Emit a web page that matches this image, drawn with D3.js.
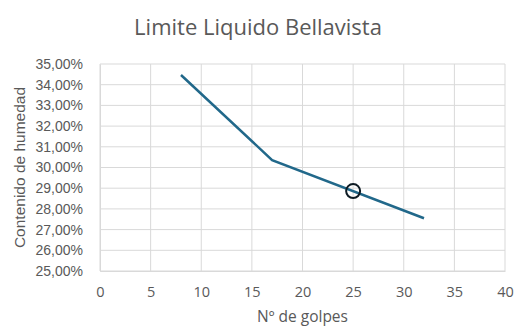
<!DOCTYPE html>
<html>
<head>
<meta charset="utf-8">
<script src="https://cdn.jsdelivr.net/npm/d3@7"></script>
<style>
  html, body { margin: 0; padding: 0; background: #fff; }
  svg { display: block; }
</style>
</head>
<body>
<svg id="chart" width="516" height="327"></svg>
<script>
// Blow count vs. moisture content (liquid limit test)
const golpes = [8, 17, 32];
const humedad = [0.3447, 0.3036, 0.2755];
// Liquid limit read at 25 blows
const limiteGolpes = [25];
const limiteHumedad = [0.2886];
const xTicks = [0, 5, 10, 15, 20, 25, 30, 35, 40];
const yTicks = [0.25, 0.26, 0.27, 0.28, 0.29, 0.30, 0.31, 0.32, 0.33, 0.34, 0.35];

const svg = d3.select("#chart");
const m = { left: 100, right: 11, top: 64, bottom: 56 };
const W = 516, H = 327;

const x = d3.scaleLinear().domain([0, 40]).range([m.left, W - m.right]);
const y = d3.scaleLinear().domain([0.25, 0.35]).range([H - m.bottom, m.top]);

const fmt = v => (v * 100).toFixed(2).replace(".", ",") + "%";

// gridlines
svg.append("g").selectAll("line.v").data(xTicks).join("line")
  .attr("x1", d => x(d)).attr("x2", d => x(d))
  .attr("y1", y(0.25)).attr("y2", y(0.35))
  .attr("stroke", "#d9d9d9").attr("stroke-width", 1);
svg.append("g").selectAll("line.h").data(yTicks).join("line")
  .attr("x1", x(0)).attr("x2", x(40))
  .attr("y1", d => y(d)).attr("y2", d => y(d))
  .attr("stroke", "#d9d9d9").attr("stroke-width", 1);

// axes
const xAxis = svg.append("g")
  .attr("transform", `translate(0,${y(0.25)})`)
  .call(d3.axisBottom(x).tickValues(xTicks).tickSize(0).tickPadding(16));
xAxis.select(".domain").attr("stroke", "#d9d9d9");
xAxis.selectAll("text").attr("fill", "#595959")
  .style("font-family", "'Open Sans', sans-serif").style("font-size", "14.5px");

const yAxis = svg.append("g")
  .attr("transform", `translate(${x(0)},0)`)
  .call(d3.axisLeft(y).tickValues(yTicks).tickFormat(fmt).tickSize(0).tickPadding(17));
yAxis.select(".domain").attr("stroke", "#d9d9d9");
yAxis.selectAll("text").attr("fill", "#595959")
  .style("font-family", "'Liberation Sans', Arial, sans-serif").style("font-size", "14px");

// data line
const pts = golpes.map((g, i) => [g, humedad[i]]);
svg.append("path").datum(pts)
  .attr("fill", "none").attr("stroke", "#21688a").attr("stroke-width", 2.5)
  .attr("d", d3.line().x(d => x(d[0])).y(d => y(d[1])));

// liquid limit marker
svg.append("g").selectAll("circle").data(limiteGolpes).join("circle")
  .attr("cx", d => x(d)).attr("cy", (d, i) => y(limiteHumedad[i]))
  .attr("r", 7).attr("fill", "none").attr("stroke", "#0e1b24").attr("stroke-width", 2);

// titles
svg.append("text").attr("x", 258).attr("y", 35).attr("text-anchor", "middle")
  .attr("fill", "#595959").style("font-family", "'Open Sans', sans-serif").style("font-size", "22px")
  .text("Limite Liquido Bellavista");

svg.append("text").attr("x", (x(0) + x(40)) / 2).attr("y", 322).attr("text-anchor", "middle")
  .attr("fill", "#595959").style("font-family", "'Open Sans', sans-serif").style("font-size", "15.5px")
  .text("Nº de golpes");

svg.append("text").attr("transform", `translate(25,${(y(0.25) + y(0.35)) / 2}) rotate(-90)`)
  .attr("text-anchor", "middle").attr("fill", "#595959")
  .style("font-family", "'Liberation Sans', Arial, sans-serif").style("font-size", "15.5px")
  .text("Contenido de humedad");
</script>
</body>
</html>
